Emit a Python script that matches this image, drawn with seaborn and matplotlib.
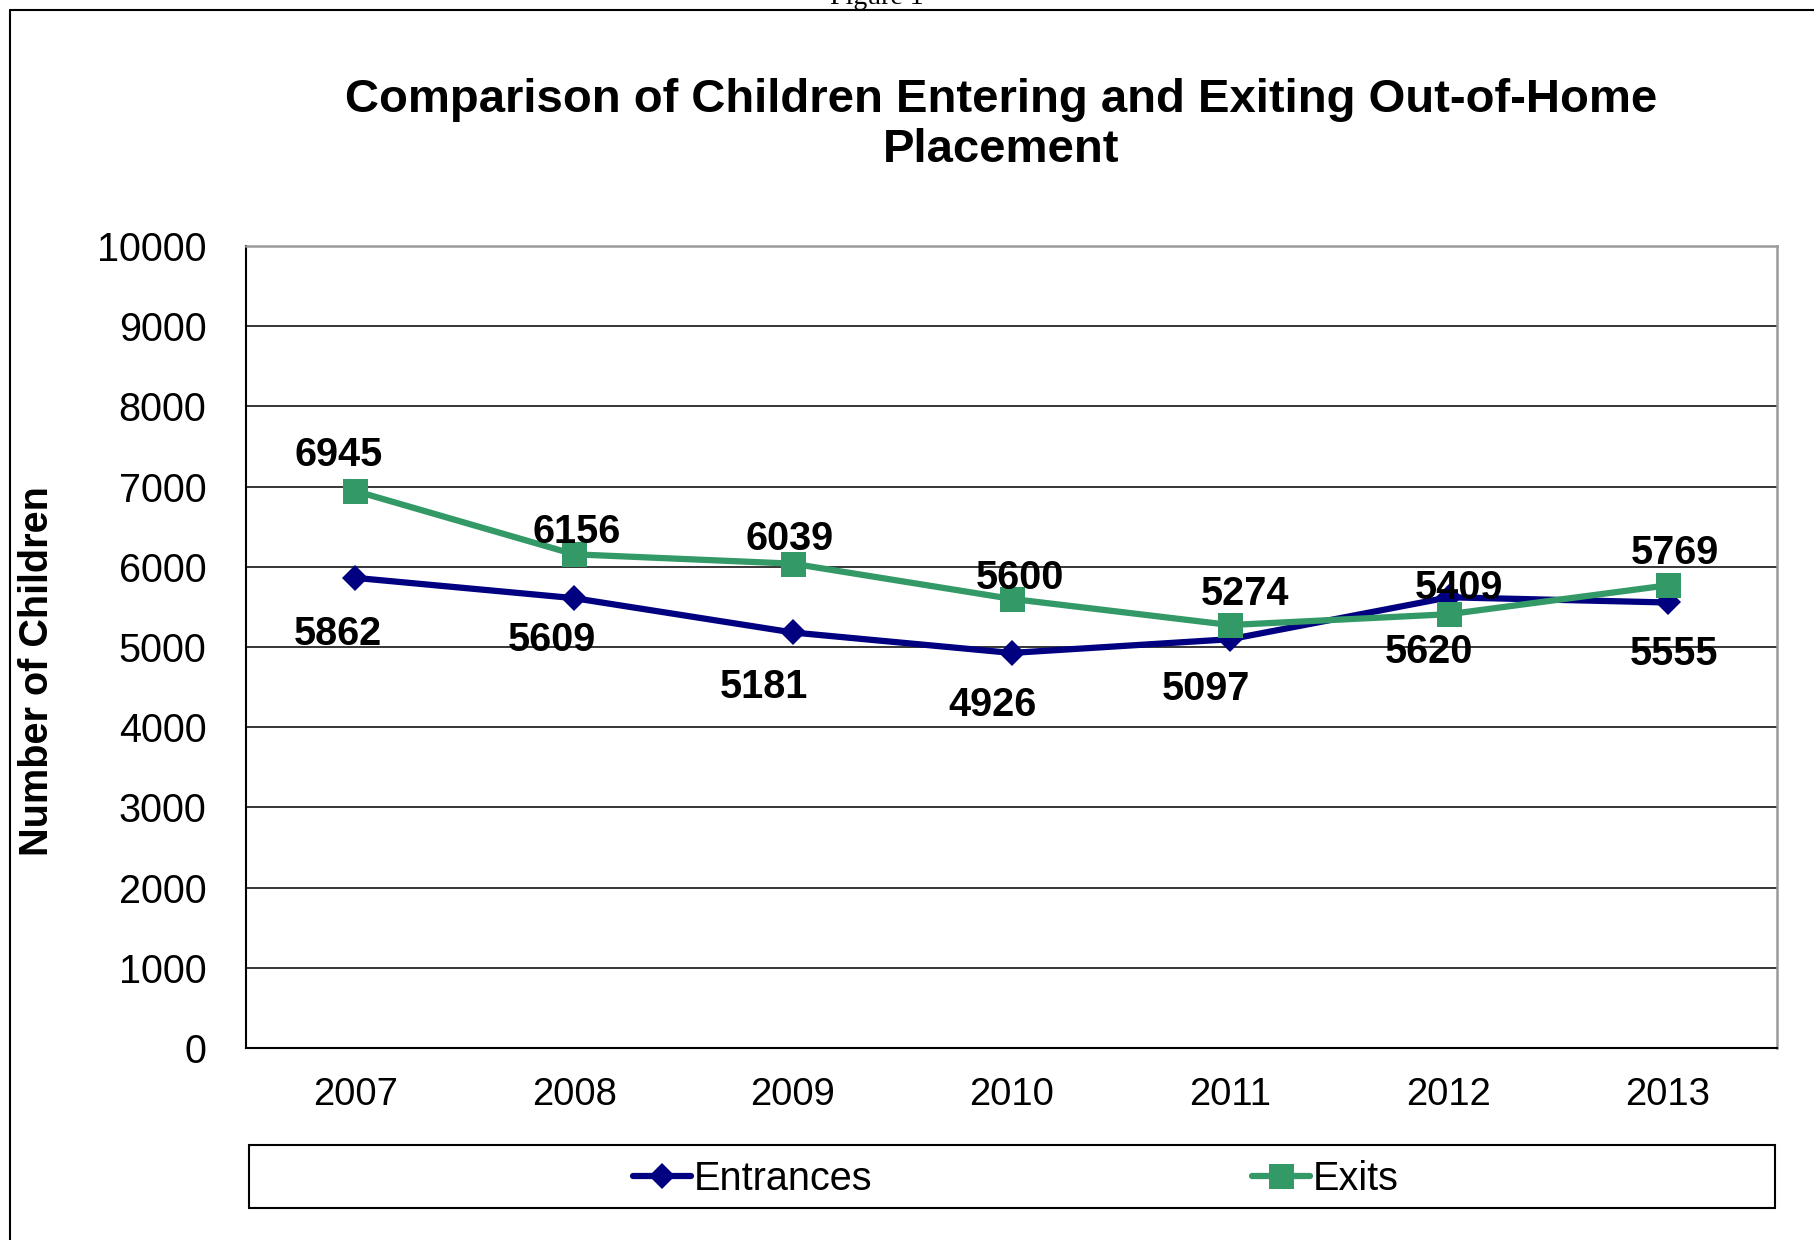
import matplotlib
matplotlib.use("Agg")
import matplotlib.pyplot as plt
from matplotlib.lines import Line2D
from matplotlib.patches import Rectangle
import seaborn as sns
import pandas as pd

# ---- data ----
years = ["2007", "2008", "2009", "2010", "2011", "2012", "2013"]
entrances = [5862, 5609, 5181, 4926, 5097, 5620, 5555]
exits = [6945, 6156, 6039, 5600, 5274, 5409, 5769]
series_names = ["Entrances", "Exits"]
y_ticks = [0, 1000, 2000, 3000, 4000, 5000, 6000, 7000, 8000, 9000, 10000]

title_text = "Comparison of Children Entering and Exiting Out-of-Home\nPlacement"
y_label = "Number of Children"

# label nudges in pixels (dx, dy)
exit_offsets = [(-17, 36), (3, 22), (-3, 25), (8, 21), (15, 31), (10, 26), (7, 32)]
entr_offsets = [(-17, -56), (-22, -42), (-29, -55), (-19, -52), (-24, -50), (-20, -55), (6, -52)]

NAVY = "#000080"
GREEN = "#339966"
LW = 4.5

df = pd.concat([
    pd.DataFrame({"Year": years, "Children": entrances, "Series": series_names[0]}),
    pd.DataFrame({"Year": years, "Children": exits, "Series": series_names[1]}),
], ignore_index=True)

sns.set_style("white")
plt.rcParams["font.family"] = ["Liberation Sans", "DejaVu Sans"]
plt.rcParams.update({
    "text.color": "black",
    "axes.labelcolor": "black",
    "xtick.color": "black",
    "ytick.color": "black",
})

W, H = 1814, 1240
fig = plt.figure(figsize=(W / 100, H / 100), dpi=100)
ax = fig.add_axes([246 / W, 1 - 1048 / H, (1777 - 246) / W, (1048 - 246) / H])

sns.lineplot(
    data=df, x="Year", y="Children", hue="Series", style="Series",
    palette={"Entrances": NAVY, "Exits": GREEN},
    markers={"Entrances": "D", "Exits": "s"}, dashes=False,
    linewidth=LW, sort=False, legend=False, ax=ax, zorder=3,
)
# marker sizes per shape
for line, ms in zip(ax.lines, [13, 18]):
    line.set_markersize(ms)
    line.set_markeredgewidth(0)
    line.set_linewidth(LW)

ax.set_xlim(-0.5, len(years) - 0.5)
ax.set_ylim(0, 10000)
ax.set_yticks(y_ticks)
ax.set_yticklabels([str(v) for v in y_ticks], fontsize=28.5)
ax.set_xticks(range(len(years)))
ax.set_xticklabels(years, fontsize=27.5)
ax.set_xticks([i - 0.5 for i in range(len(years) + 1)], minor=True)
ax.tick_params(axis="x", which="major", length=0, pad=21)
ax.tick_params(axis="x", which="minor", length=6.5, width=1.2, direction="out", color="black")
ax.tick_params(axis="y", which="major", length=8.6, width=1.2, direction="out", pad=20, color="black")
ax.set_xlabel("")
ax.set_ylabel("")

ax.grid(axis="y", color="black", linewidth=1.1, zorder=1)
ax.grid(axis="x", visible=False)
ax.set_axisbelow(True)
for side in ["left", "bottom"]:
    ax.spines[side].set_color("black")
    ax.spines[side].set_linewidth(1.5)
for side in ["top", "right"]:
    ax.spines[side].set_color("#9a9a9a")
    ax.spines[side].set_linewidth(1.8)

# value labels
for i, v in enumerate(exits):
    dx, dy = exit_offsets[i]
    ax.annotate(str(v), (i, v), xytext=(dx, dy), textcoords="offset pixels",
                ha="center", va="center", fontsize=28.5, fontweight="bold", zorder=5)
for i, v in enumerate(entrances):
    dx, dy = entr_offsets[i]
    ax.annotate(str(v), (i, v), xytext=(dx, dy), textcoords="offset pixels",
                ha="center", va="center", fontsize=28.5, fontweight="bold", zorder=5)

# title and axis label
fig.text(1001 / W, 1 - 125 / H, title_text, ha="center", va="center",
         fontsize=34, fontweight="bold", linespacing=1.18)
fig.text(37 / W, 1 - 671 / H, y_label, ha="center", va="center",
         rotation=90, fontsize=28.5, fontweight="bold")

# legend in its own box
fig.add_artist(Rectangle((249 / W, 1 - 1208 / H), (1775 - 249) / W, (1208 - 1145) / H,
                         transform=fig.transFigure, fill=False, edgecolor="black", linewidth=1.5))
handles = [
    Line2D([], [], color=NAVY, lw=LW, marker="D", ms=13, markeredgewidth=0),
    Line2D([], [], color=GREEN, lw=LW, marker="s", ms=18, markeredgewidth=0),
]
fig.legend(handles, series_names, loc="center", bbox_to_anchor=(1016 / W, 1 - 1179 / H),
           ncol=2, frameon=False, fontsize=28.5, handlelength=1.45, handletextpad=0.08,
           columnspacing=9.6, borderpad=0, borderaxespad=0)

# page frame and caption above it
fig.add_artist(Line2D([10 / W, 10 / W], [0, 1 - 10 / H], transform=fig.transFigure,
                      color="black", lw=1.5))
fig.add_artist(Line2D([10 / W, 1], [1 - 10 / H, 1 - 10 / H], transform=fig.transFigure,
                      color="black", lw=1.5))
fig.text(830 / W, 1 - 4 / H, "Figure 1", ha="left", va="baseline",
         fontsize=20, family="Liberation Serif")

fig.savefig("out.png", dpi=100, facecolor="white")
